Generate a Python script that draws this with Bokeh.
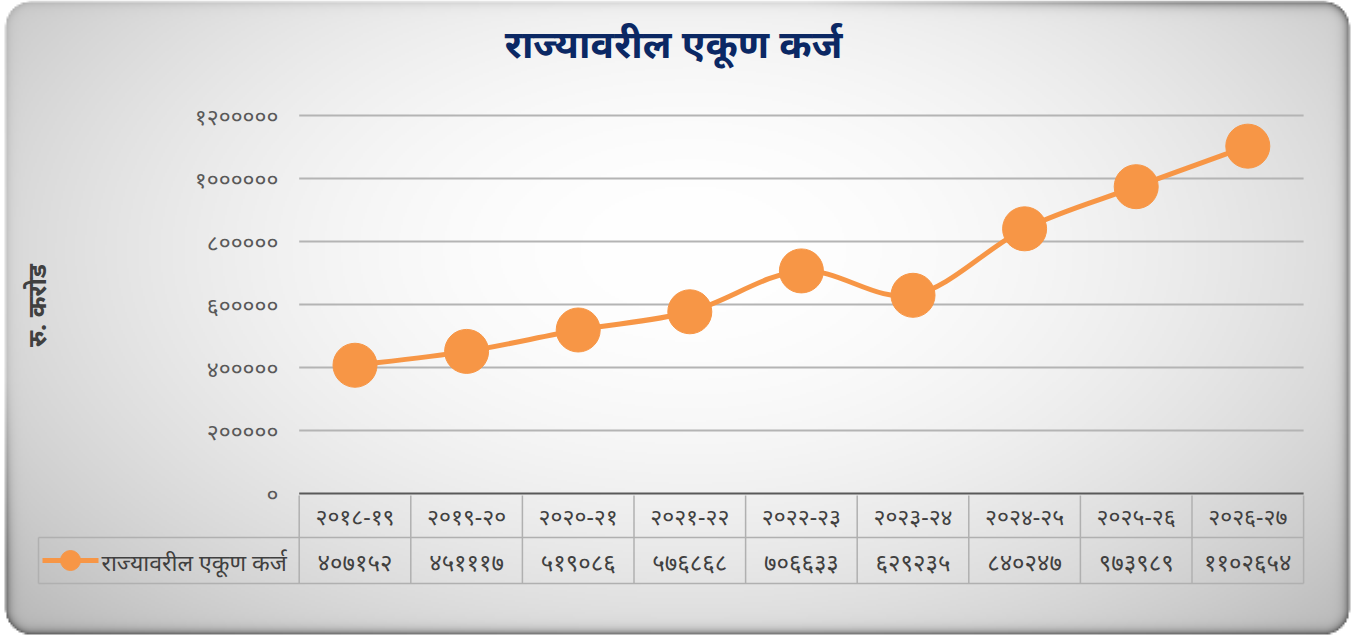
import numpy as np
from bokeh.plotting import figure
from bokeh.models import Range1d, Label
from bokeh.core.properties import value
from bokeh.embed import file_html
from bokeh.resources import INLINE

# ---------------- data ----------------
title_text = "राज्यावरील एकूण कर्ज"
y_axis_title = "रु. करोड"
series_name = "राज्यावरील एकूण कर्ज"
categories = ["२०१८-१९", "२०१९-२०", "२०२०-२१", "२०२१-२२", "२०२२-२३",
              "२०२३-२४", "२०२४-२५", "२०२५-२६", "२०२६-२७"]
values = [407152, 451117, 519086, 576868, 706633, 629235, 840247, 973989, 1102654]
y_ticks = [0, 200000, 400000, 600000, 800000, 1000000, 1200000]

DEV = str.maketrans("0123456789", "०१२३४५६७८९")


def dev(n):
    return str(n).translate(DEV)


# ---------------- layout helpers (pixels -> data) ----------------
W, H = 1356, 636
CAT_W = 111.6          # px per category
X0_PX = 354.5          # px of first category centre
Y0_PX = 493.0          # px of value 0
YT_PX = 115.0          # px of 1 200 000
UPP = 1200000.0 / (Y0_PX - YT_PX)


def sx(px):
    return (px - X0_PX) / CAT_W


def sy(py):
    return (Y0_PX - py) * UPP


FONT = value("Noto Sans")
ORANGE = "#F79646"
TXT = "#404040"

p = figure(width=W, height=H, x_range=Range1d(sx(0), sx(W)), y_range=Range1d(sy(H), sy(0)),
           output_backend="svg", toolbar_location=None, x_axis_location=None,
           y_axis_location=None, min_border=0, title=None, outline_line_color=None,
           background_fill_color="white", border_fill_color="white")
p.grid.visible = False

# ---------------- background panel (gradient, rounded, bevel) ----------------
S = 2
w, h = (W + S - 1) // S, (H + S - 1) // S
X = (np.arange(w) + 0.5) * S
Y = (np.arange(h) + 0.5) * S
XX, YY = np.meshgrid(X, Y)
bx0, bx1, by0, by1, rad = 5.0, 1349.0, 1.0, 634.0, 26.0
cx, cy = (bx0 + bx1) / 2, (by0 + by1) / 2
hw, hh = (bx1 - bx0) / 2, (by1 - by0) / 2
qx = np.abs(XX - cx) - (hw - rad)
qy = np.abs(YY - cy) - (hh - rad)
sdf = np.hypot(np.maximum(qx, 0), np.maximum(qy, 0)) + np.minimum(np.maximum(qx, qy), 0) - rad
inside = -sdf
rr = ((XX - 690) / 820.0) ** 2 + ((YY - 250) / 480.0) ** 2
base = 255 - 55 * np.clip(rr, 0, 1.5)
nx = (XX - cx) / hw
ny = (YY - cy) / hh
wdir = np.clip(np.maximum(nx, ny) * 1.3, 0.25, 1.0)
shade = 1 - 0.55 * np.exp(-np.clip(inside, 0, None) / 4.0) * wdir
g = np.clip(base * shade, 0, 255).astype(np.uint32)
alpha = (np.clip(0.5 - sdf, 0, 1) * 255).astype(np.uint32)
img = (g | (g << 8) | (g << 16) | (alpha << 24)).astype(np.uint32)
img = np.ascontiguousarray(img[::-1])
p.image_rgba(image=[img], x=sx(0), y=sy(h * S), dw=sx(w * S) - sx(0), dh=sy(0) - sy(h * S))

# ---------------- grid lines ----------------
grid_vals = y_ticks[1:]
p.segment(x0=[-0.5] * len(grid_vals), x1=[len(categories) - 0.5] * len(grid_vals),
          y0=grid_vals, y1=grid_vals, line_color="#b4b4b4", line_width=2)

# y tick labels
p.text(x=[sx(278)] * len(y_ticks), y=y_ticks, text=[dev(t) for t in y_ticks],
       text_font=FONT, text_font_size="23px", text_color="#595959",
       text_align="right", text_baseline="middle")

# ---------------- data table ----------------
n = len(categories)
idx = list(range(n))
row1 = sy(537)
row2 = sy(583)
vx = [i - 0.5 for i in range(n + 1)]
p.segment(x0=vx, x1=vx, y0=[sy(495)] * len(vx), y1=[row2] * len(vx),
          line_color="#b0b0b0", line_width=1.5)
p.segment(x0=[sx(38), sx(38)], x1=[n - 0.5, n - 0.5], y0=[row1, row2], y1=[row1, row2],
          line_color="#b0b0b0", line_width=1.5)
p.segment(x0=[sx(38)], x1=[sx(38)], y0=[row1], y1=[row2], line_color="#b0b0b0", line_width=1.5)
# category axis line
p.segment(x0=[-0.5], x1=[n - 0.5], y0=[0], y1=[0], line_color="#595959", line_width=2)

p.text(x=idx, y=[sy(515)] * n, text=categories, text_font=FONT, text_font_size="23px",
       text_color=TXT, text_align="center", text_baseline="middle")
p.text(x=idx, y=[sy(561)] * n, text=[dev(v) for v in values], text_font=FONT,
       text_font_size="24px", text_color=TXT, text_align="center", text_baseline="middle")

# legend key in table
p.segment(x0=[sx(42)], x1=[sx(98)], y0=[sy(560)], y1=[sy(560)], line_color=ORANGE, line_width=5)
p.scatter(x=[sx(70)], y=[sy(560)], size=20, color=ORANGE)
p.text(x=[sx(101)], y=[sy(561)], text=[series_name], text_font=FONT, text_font_size="23px",
       text_color=TXT, text_align="left", text_baseline="middle")

# ---------------- smoothed series line ----------------
pts = list(zip(idx, values))
bx0s, by0s, bx1s, by1s, c0x, c0y, c1x, c1y = [], [], [], [], [], [], [], []
for i in range(n - 1):
    pm = pts[max(i - 1, 0)]
    p0 = pts[i]
    p1 = pts[i + 1]
    p2 = pts[min(i + 2, n - 1)]
    bx0s.append(p0[0]); by0s.append(p0[1])
    bx1s.append(p1[0]); by1s.append(p1[1])
    c0x.append(p0[0] + (p1[0] - pm[0]) / 6.0); c0y.append(p0[1] + (p1[1] - pm[1]) / 6.0)
    c1x.append(p1[0] - (p2[0] - p0[0]) / 6.0); c1y.append(p1[1] - (p2[1] - p0[1]) / 6.0)
p.bezier(x0=bx0s, y0=by0s, x1=bx1s, y1=by1s, cx0=c0x, cy0=c0y, cx1=c1x, cy1=c1y,
         line_color=ORANGE, line_width=5)
p.scatter(x=idx, y=values, size=44, color=ORANGE)

# ---------------- titles ----------------
p.add_layout(Label(x=673, y=H - 42, x_units="screen", y_units="screen", text=title_text,
                   text_font="Noto Sans", text_font_size="39px", text_font_style="bold",
                   text_color="#0b2864", text_align="center", text_baseline="middle"))
p.add_layout(Label(x=35, y=H - 305, x_units="screen", y_units="screen", text=y_axis_title,
                   angle=np.pi / 2, text_font="Noto Sans", text_font_size="25px",
                   text_font_style="bold", text_color=TXT, text_align="center",
                   text_baseline="middle"))

open("out.html", "w").write(file_html(p, INLINE))
